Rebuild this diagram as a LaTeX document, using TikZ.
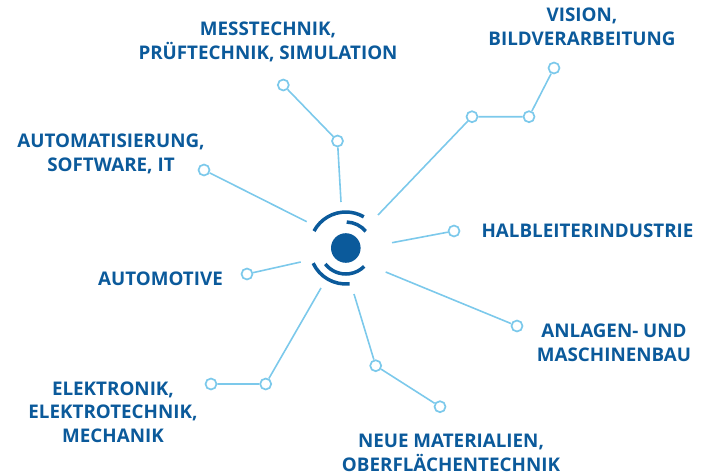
\documentclass[tikz,border=0pt]{standalone}
\usepackage{fontspec}
\setmainfont{Open Sans}
\definecolor{darkblue}{HTML}{0B5A9B}
\definecolor{lightblue}{HTML}{7CC9EB}

\begin{document}
\begin{tikzpicture}[x=1pt,y=-1pt]
    \tikzset{%
      ring/.style={circle, draw=lightblue, fill=white, line width=1.7pt,
        inner sep=0pt, minimum size=11pt},
      link/.style={lightblue, line width=1.6pt},
      wave/.style={darkblue, line width=3.5pt},
      label/.style={darkblue, align=center, inner sep=0pt,
        font=\bfseries\fontsize{18.8}{23.5}\selectfont},
    }
    \useasboundingbox (0,0) rectangle (711,474);
    % centre
    \coordinate (C) at (345.8,248);
    \fill [darkblue] (C) circle [radius=14.8pt];
    \draw [wave] ([shift={(60:36pt)}]C) arc [start angle=60, end angle=152, radius=36pt];
    \draw [wave] ([shift={(40:26pt)}]C) arc [start angle=40, end angle=88, radius=26pt];
    \draw [wave] ([shift={(205:36pt)}]C) arc [start angle=205, end angle=276, radius=36pt];
    \draw [wave] ([shift={(218:26pt)}]C) arc [start angle=218, end angle=315, radius=26pt];

    % Messtechnik
    \coordinate (M0) at (341,202);
    \node [ring] (M1) at (337.5,141) {};
    \node [ring] (M2) at (283.3,85) {};
    \draw [link] (M0) -- (M1) -- (M2);
    \node [label] (Mess) at (268,42) {MESSTECHNIK,\\PRÜFTECHNIK, SIMULATION};
    % Automatisierung
    \coordinate (A0) at (306.7,221.7);
    \node [ring] (A1) at (204,170) {};
    \draw [link] (A0) -- (A1);
    \node [label] (Auto) at (111,154) {AUTOMATISIERUNG,\\SOFTWARE, IT};
    % Vision
    \coordinate (V0) at (378,215);
    \node [ring] (V1) at (472,116.7) {};
    \node [ring] (V2) at (529,116.7) {};
    \node [ring] (V3) at (554,68) {};
    \draw [link] (V0) -- (V1) -- (V2) -- (V3);
    \node [label] (Vis) at (582,27) {VISION,\\BILDVERARBEITUNG};
    % Halbleiter
    \coordinate (H0) at (392,242.7);
    \node [ring] (H1) at (454,231) {};
    \draw [link] (H0) -- (H1);
    \node [label] (Halb) at (587.5,231) {HALBLEITERINDUSTRIE};
    % Automotive
    \coordinate (O0) at (300.7,262);
    \node [ring] (O1) at (247,274) {};
    \draw [link] (O0) -- (O1);
    \node [label] (Motive) at (160.5,279) {AUTOMOTIVE};
    % Anlagen
    \coordinate (L0) at (385.7,272);
    \node [ring] (L1) at (517,326) {};
    \draw [link] (L0) -- (L1);
    \node [label] (Anl) at (614,343) {ANLAGEN- UND\\MASCHINENBAU};
    % Elektronik
    \coordinate (E0) at (321,288);
    \node [ring] (E1) at (265.7,384) {};
    \node [ring] (E2) at (211,384) {};
    \draw [link] (E0) -- (E1) -- (E2);
    \node [label] (Elek) at (113,412) {ELEKTRONIK,\\ELEKTROTECHNIK,\\MECHANIK};
    % Neue Materialien
    \coordinate (N0) at (354,294);
    \node [ring] (N1) at (375.7,365.7) {};
    \node [ring] (N2) at (440,406.7) {};
    \draw [link] (N0) -- (N1) -- (N2);
    \node [label] (Mat) at (451,453) {NEUE MATERIALIEN,\\OBERFLÄCHENTECHNIK};
\end{tikzpicture}
\end{document}
